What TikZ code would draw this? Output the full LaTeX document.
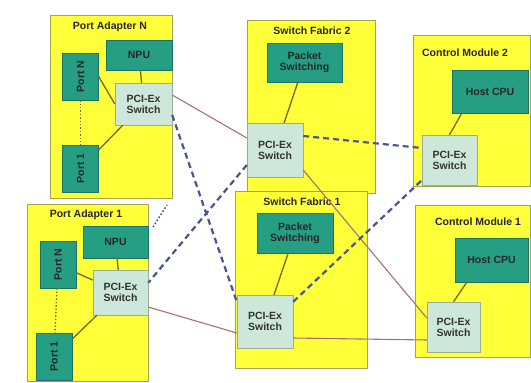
\documentclass[tikz,border=0pt]{standalone}
\usepackage{fontspec}
\setmainfont{Liberation Sans}
\usetikzlibrary{positioning}
\definecolor{modyellow}{RGB}{255,255,58}
\definecolor{modborder}{RGB}{165,165,80}
\definecolor{unitteal}{RGB}{38,158,132}
\definecolor{unitedge}{RGB}{25,115,100}
\definecolor{swfill}{RGB}{205,232,218}
\definecolor{swedge}{RGB}{150,175,150}
\definecolor{innerlink}{RGB}{115,105,35}
\definecolor{outerlink}{RGB}{170,110,120}
\definecolor{pcielink}{RGB}{75,85,145}

\begin{document}
\begin{tikzpicture}[x=1pt,y=-1pt,font=\bfseries\fontsize{10.5}{11}\selectfont,
  module/.style={draw=modborder,line width=0.8pt,fill=modyellow,anchor=north west,inner sep=0pt},
  title/.style={text=black!85},
  unit/.style={draw=unitedge,fill=unitteal,text=black!85,inner sep=1pt,align=center},
  port/.style={unit,minimum width=36pt,minimum height=47pt},
  pcisw/.style={draw=swedge,fill=swfill,text=black!80,inner sep=1pt,align=center},
  inner/.style={draw=innerlink,line width=1.3pt},
  outer/.style={draw=outerlink,line width=1.1pt},
  pcie/.style={draw=pcielink,line width=2.2pt,dash pattern=on 6pt off 4pt}]
  \useasboundingbox (0,0) rectangle (531,383);

  \node[module,minimum width=122pt,minimum height=183pt] (paN) at (50,15) {};
  \node[module,minimum width=121pt,minimum height=177pt] (pa1) at (27,204) {};
  \node[module,minimum width=128pt,minimum height=173pt] (sf2) at (247,20) {};
  \node[module,minimum width=132pt,minimum height=177pt] (sf1) at (235,191) {};
  \node[module,minimum width=117pt,minimum height=151pt] (cm2) at (413,35) {};
  \node[module,minimum width=115pt,minimum height=152pt] (cm1) at (415,205) {};

  \node[title] (paNtitle) at (110,27) {Port Adapter N};
  \node[title] (pa1title) at (86,215) {Port Adapter 1};
  \node[title] (sf2title) at (312,31) {Switch Fabric 2};
  \node[title] (sf1title) at (302,202) {Switch Fabric 1};
  \node[title] (cm2title) at (465,53) {Control Module 2};
  \node[title] (cm1title) at (478,222) {Control Module 1};

  \node[unit,minimum width=66pt,minimum height=30pt] (paNnpu) at (139,55) {NPU};
  \node[port] (paNpN) at (80.5,76.5) {\rotatebox{90}{Port N}};
  \node[port] (paNp1) at (80.5,168.5) {\rotatebox{90}{Port 1}};
  \node[pcisw,minimum width=57pt,minimum height=42pt] (paNsw) at (143.5,104) {PCI-Ex\\Switch};

  \node[unit,minimum width=65pt,minimum height=32pt] (pa1npu) at (115.5,242) {NPU};
  \node[port] (pa1pN) at (58,264.5) {\rotatebox{90}{Port N}};
  \node[port] (pa1p1) at (54,356.5) {\rotatebox{90}{Port 1}};
  \node[pcisw,minimum width=55pt,minimum height=45pt] (pa1sw) at (120.5,292.5) {PCI-Ex\\Switch};

  \node[unit,minimum width=75pt,minimum height=39pt] (sf2ps) at (304.5,62.5) {Packet\\Switching};
  \node[pcisw,minimum width=56pt,minimum height=54pt] (sf2sw) at (275,150) {PCI-Ex\\Switch};

  \node[unit,minimum width=76pt,minimum height=40pt] (sf1ps) at (295,233) {Packet\\Switching};
  \node[pcisw,minimum width=56pt,minimum height=53pt] (sf1sw) at (265,321.5) {PCI-Ex\\Switch};

  \node[unit,minimum width=76pt,minimum height=43pt] (cm2cpu) at (490,91.5) {Host CPU};
  \node[pcisw,minimum width=55pt,minimum height=50pt] (cm2sw) at (449.5,160) {PCI-Ex\\Switch};

  \node[unit,minimum width=73pt,minimum height=44pt] (cm1cpu) at (491.5,260) {Host CPU};
  \node[pcisw,minimum width=53pt,minimum height=50pt] (cm1sw) at (453.5,327) {PCI-Ex\\Switch};

  \coordinate (gapA) at (153,227);
  \coordinate (gapB) at (167,205);

  \path[inner] (paNnpu) -- (paNsw)
    (paNpN.east) -- (paNsw.west)
    (paNp1) -- (paNsw)
    (pa1npu) -- (pa1sw)
    (pa1pN) -- (pa1sw)
    (pa1p1) -- (pa1sw)
    (sf2ps) -- (sf2sw)
    (sf1ps) -- (sf1sw)
    ([xshift=10pt]cm2cpu.south west) -- (cm2sw.north)
    ([xshift=12pt]cm1cpu.south west) -- (cm1sw.north);
  \draw[innerlink,line width=1.4pt,dotted] (paNpN) -- (paNp1);
  \draw[innerlink,line width=1.4pt,dotted] (pa1pN) -- (pa1p1);

  \path[outer] ([yshift=9pt]paNsw.east) -- ([yshift=12pt]sf2sw.west)
    ([yshift=-14.5pt]pa1sw.east) -- ([yshift=-11.5pt]sf1sw.west)
    ([yshift=-20pt]sf2sw.east) -- ([yshift=9pt]cm1sw.west)
    ([yshift=-16.5pt]sf1sw.east) -- ([yshift=-13pt]cm1sw.west);

  \path[pcie] ([yshift=-11pt]paNsw.east) -- ([yshift=-7pt]sf1sw.north west)
    ([yshift=-15pt]sf2sw.west) -- ([yshift=-13pt]pa1sw.north east)
    ([yshift=14pt]sf2sw.east) -- ([yshift=12pt]cm2sw.west)
    ([yshift=-7pt]sf1sw.north east) -- ([yshift=5pt]cm2sw.south west);
  \draw[pcielink,line width=1.6pt,dotted] (gapA) -- (gapB);
\end{tikzpicture}
\end{document}
